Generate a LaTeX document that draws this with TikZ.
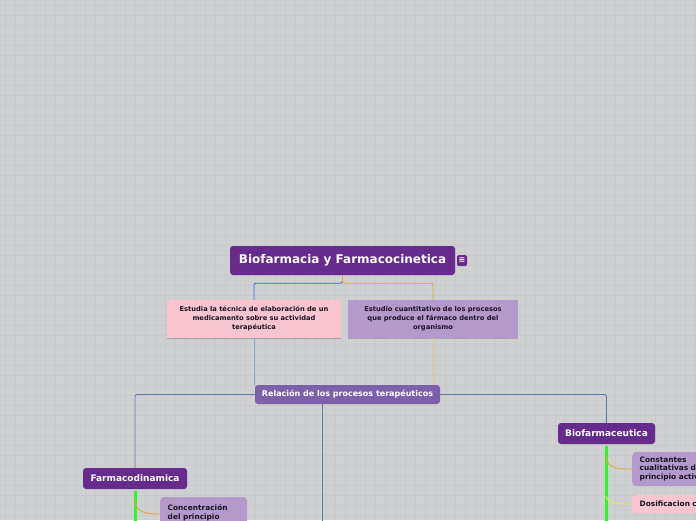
\documentclass[tikz,border=0pt]{standalone}
\usepackage{fontspec}
\setmainfont{DejaVu Sans}
\usetikzlibrary{arrows.meta}
\definecolor{mmdark}{RGB}{103,43,141}
\definecolor{mmmid}{RGB}{124,96,171}
\definecolor{mmpink}{RGB}{249,197,208}
\definecolor{mmlilac}{RGB}{180,154,202}
\definecolor{mmbg}{RGB}{207,208,210}
\definecolor{mmgrid}{RGB}{200,201,203}
\definecolor{mmblue}{RGB}{45,110,230}
\definecolor{mmorange}{RGB}{232,163,58}
\definecolor{mmpaleblue}{RGB}{130,165,210}
\definecolor{mmpaleorange}{RGB}{228,195,140}
\definecolor{mmsteel}{RGB}{91,123,173}
\definecolor{mmgreen}{RGB}{46,245,46}
\definecolor{mmyellow}{RGB}{228,240,74}
\definecolor{mmshadow}{RGB}{165,165,168}
\definecolor{mmtext}{RGB}{25,20,35}
\tikzset{
  topic/.style={rounded corners=3pt, align=center, text=white, fill=mmdark, inner sep=0pt,
    font=\fontsize{9}{10}\selectfont\bfseries, minimum height=21pt},
  rootbox/.style={topic, minimum width=225pt, minimum height=29pt, font=\fontsize{12}{13}\selectfont\bfseries},
  relbox/.style={topic, fill=mmmid, minimum width=185pt, minimum height=19pt, font=\fontsize{8}{9}\selectfont\bfseries},
  menuicon/.style={fill=mmdark, rounded corners=1.5pt, minimum width=10pt, minimum height=11pt, inner sep=0pt,
    text=white, font=\fontsize{8}{8}\selectfont\bfseries},
  note/.style={align=center, text=mmtext, inner sep=0pt, minimum height=38pt, font=\fontsize{6.7}{9}\selectfont\bfseries},
  notepink/.style={note, fill=mmpink},
  notelilac/.style={note, fill=mmlilac},
  sub/.style={rounded corners=4pt, align=left, text=mmtext, inner xsep=7.5pt, inner ysep=0pt, anchor=west,
    font=\fontsize{7.4}{8.6}\selectfont\bfseries},
  sublilac/.style={sub, fill=mmlilac, text width=72pt, minimum height=34pt},
  subpink/.style={sub, fill=mmpink, text width=100pt, minimum height=18pt},
  shadowline/.style={mmshadow, line width=1.2pt},
  link/.style={line width=0.9pt, rounded corners=2pt},
  stem/.style={mmgreen, line width=3pt},
  branch/.style={line width=0.9pt},
  gridline/.style={mmgrid, line width=0.6pt},
}

\begin{document}
\begin{tikzpicture}[x=1pt, y=-1pt]
  \useasboundingbox (0,0) rectangle (696,520);
  \clip (0,0) rectangle (696,520);
  \fill[mmbg] (0,0) rectangle (696,520);
  \foreach \gx in {5,15,...,695} \draw[gridline] (\gx,0) -- (\gx,520);
  \foreach \gy in {5,15,...,515} \draw[gridline] (0,\gy) -- (696,\gy);

  % central topic and its notes
  \node[rootbox] (root) at (342.5,260.5) {Biofarmacia y Farmacocinetica};
  \node[menuicon] (menu) at (462,260.5) {≡};
  \node[notepink, minimum width=174pt] (tecnica) at (254,319) {Estudia la técnica de elaboración de un\\medicamento sobre su actividad\\terapéutica};
  \node[notelilac, minimum width=170pt] (cuanti) at (433,319) {Estudio cuantitativo de los procesos\\que produce el fármaco dentro del\\organismo};
  \draw[shadowline] (tecnica.south west) -- (tecnica.south east);
  \draw[shadowline] (cuanti.south west) -- (cuanti.south east);
  \draw[link, mmblue] (root.south) -- ++(0,8) -| (tecnica.north);
  \draw[link, mmorange] (root.south) -- ++(0,8) -| (cuanti.north);

  % relation topic
  \node[relbox] (relacion) at (347.5,394.5) {Relación de los procesos terapéuticos};
  \draw[link, mmpaleblue] (tecnica.south) -- (tecnica.south |- relacion.north);
  \draw[link, mmpaleorange] (cuanti.south) -- (cuanti.south |- relacion.north);

  \node[topic, minimum width=104pt] (farmaco) at (135,478.5) {Farmacodinamica};
  \node[topic, minimum width=97pt] (biofar) at (606.5,433.5) {Biofarmaceutica};
  \coordinate (relbottom) at (322,530);
  \draw[link, mmsteel] (relacion.west) -| (farmaco.north);
  \draw[link, mmsteel] (relacion.east) -| (biofar.north);
  \draw[link, mmsteel] (relbottom |- relacion.south) -- (relbottom);

  % subtopics
  \node[sublilac, text depth=12pt] (concen) at (160,514) {Concentración\\del principio};
  \node[sublilac] (constantes) at (632,469) {Constantes\\cualitativas del\\principio activo};
  \node[subpink] (dosis) at (632,504) {Dosificacion correcta};
  \coordinate (stemend) at (0,530);
  \draw[stem] ([yshift=-2pt]farmaco.south) -- (farmaco.south |- stemend);
  \draw[stem] ([yshift=-2pt]biofar.south) -- (biofar.south |- stemend);
  \draw[branch, mmorange] ([yshift=-11pt]farmaco.south) .. controls +(0,13) and +(-12,0) .. (concen.west);
  \draw[branch, mmorange] ([yshift=-13pt]biofar.south) .. controls +(0,12) and +(-12,0) .. (constantes.west);
  \draw[branch, mmyellow] ([yshift=-52pt]biofar.south) .. controls +(0,8) and +(-12,0) .. (dosis.west);
\end{tikzpicture}
\end{document}
